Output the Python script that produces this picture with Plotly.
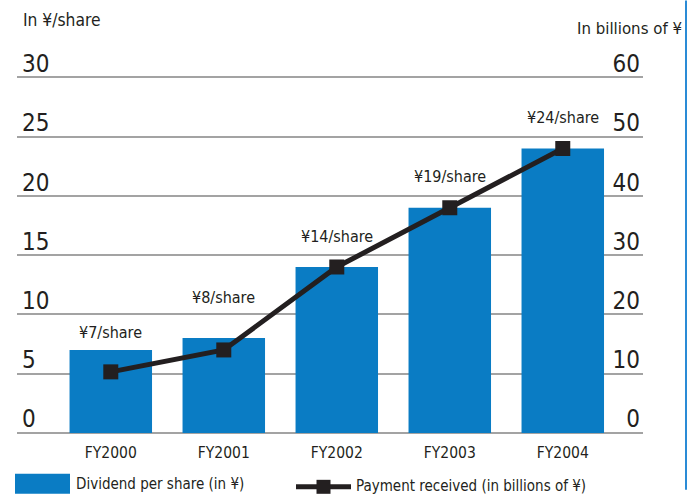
import plotly.graph_objects as go
from plotly.subplots import make_subplots

# Fiscal years and the two series
years = ["FY2000", "FY2001", "FY2002", "FY2003", "FY2004"]
dividend_per_share = [7, 8, 14, 19, 24]          # yen per share (left axis)
payment_received = [10.3, 14, 28, 38, 48]        # billions of yen (right axis)
value_labels = ["¥7/share", "¥8/share", "¥14/share", "¥19/share", "¥24/share"]

left_ticks = [0, 5, 10, 15, 20, 25, 30]
right_ticks = [0, 10, 20, 30, 40, 50, 60]

FONT = "Liberation Sans Narrow, Arial Narrow, DejaVu Sans Condensed, sans-serif"
TEXT = "#231f20"
BLUE = "#0a7cc4"
GRID = "#a3a3a3"

W, H = 698, 497
PX_PER_UNIT = 356 / 30          # vertical scale of the left axis
Y_TOP = 34                      # range top; 30 stays the last gridline
Y_BOT = -0.6                    # small pad below 0 keeps the "0" labels inside
ZERO_PX = 433                   # pixel row of the zero line
M_L, M_R = 17, 55
M_B = H - ZERO_PX + Y_BOT * PX_PER_UNIT
PH = (Y_TOP - Y_BOT) * PX_PER_UNIT
M_T = H - M_B - PH
PW = W - M_L - M_R


def px_x(x):
    return (x - M_L) / PW


def px_y(y):
    return (H - M_B - y) / PH


fig = make_subplots(specs=[[{"secondary_y": True}]])

fig.add_trace(go.Bar(
    x=years, y=dividend_per_share, name="Dividend per share (in ¥)",
    marker=dict(color=BLUE, line=dict(width=0)), width=0.73,
    showlegend=False, hoverinfo="x+y",
), secondary_y=False)

fig.add_trace(go.Scatter(
    x=years, y=payment_received, name="Payment received (in billions of ¥)",
    mode="lines+markers",
    line=dict(color=TEXT, width=5),
    marker=dict(symbol="square", size=15, color=TEXT),
    showlegend=False,
), secondary_y=True)

# value labels above each bar (vertical offset in px above the bar top)
label_lift = [17, 41, 30, 31, 31]
annotations = []
for yr, v, lab, lift in zip(years, dividend_per_share, value_labels, label_lift):
    annotations.append(dict(
        x=yr, y=v, xref="x", yref="y", text=lab, showarrow=False,
        yanchor="middle", yshift=lift,
        font=dict(family=FONT, size=16, color=TEXT),
    ))

# axis unit captions
annotations.append(dict(
    x=px_x(21), y=px_y(20), xref="paper", yref="paper", text="In ¥/share",
    showarrow=False, xanchor="left", yanchor="middle",
    font=dict(family=FONT, size=17.3, color=TEXT),
))
annotations.append(dict(
    x=px_x(684), y=px_y(28), xref="paper", yref="paper", text="In billions of ¥",
    showarrow=False, xanchor="right", yanchor="middle",
    font=dict(family=FONT, size=16.7, color=TEXT),
))

# legend entries drawn by hand
annotations.append(dict(
    x=px_x(74), y=px_y(484), xref="paper", yref="paper",
    text="Dividend per share (in ¥)", showarrow=False,
    xanchor="left", yanchor="middle",
    font=dict(family=FONT, size=15, color=TEXT),
))
annotations.append(dict(
    x=px_x(354), y=px_y(486), xref="paper", yref="paper",
    text="Payment received (in billions of ¥)", showarrow=False,
    xanchor="left", yanchor="middle",
    font=dict(family=FONT, size=15, color=TEXT),
))

shapes = [
    dict(type="rect", xref="paper", yref="paper",
         x0=px_x(15), x1=px_x(70), y0=px_y(474), y1=px_y(494),
         fillcolor=BLUE, line=dict(width=0)),
    dict(type="line", xref="paper", yref="paper",
         x0=px_x(296), x1=px_x(351), y0=px_y(487), y1=px_y(487),
         line=dict(color=TEXT, width=5)),
    dict(type="rect", xref="paper", yref="paper",
         x0=px_x(316.5), x1=px_x(330.5), y0=px_y(480), y1=px_y(494),
         fillcolor=TEXT, line=dict(width=0)),
    # thin blue rule at the right edge
    dict(type="line", xref="paper", yref="paper",
         x0=px_x(686), x1=px_x(686), y0=px_y(0), y1=px_y(490),
         line=dict(color="#2a8bd6", width=2)),
]

fig.update_layout(
    width=W, height=H,
    margin=dict(l=M_L, r=M_R, t=M_T, b=M_B, pad=0, autoexpand=False),
    paper_bgcolor="white", plot_bgcolor="white",
    font=dict(family=FONT, color=TEXT),
    annotations=annotations, shapes=shapes,
    showlegend=False,
)

fig.update_xaxes(
    domain=[0, 1],
    range=[-0.83, 4.71], showgrid=False, showline=False, zeroline=False,
    ticks="", ticklabelstandoff=1, automargin=False,
    tickfont=dict(family=FONT, size=15.5, color=TEXT),
)

fig.update_yaxes(
    range=[Y_BOT, Y_TOP], tickvals=left_ticks, ticktext=[str(t) for t in left_ticks],
    ticklabelposition="inside top", ticklabelshift=3, ticklabelstandoff=2,
    showgrid=True, gridcolor=GRID, gridwidth=1.5,
    zeroline=True, zerolinecolor=GRID, zerolinewidth=1.5,
    showline=False, ticks="", automargin=False,
    tickfont=dict(family=FONT, size=24, color=TEXT),
    secondary_y=False,
)
fig.update_yaxes(
    range=[2 * Y_BOT, 2 * Y_TOP], tickvals=right_ticks, ticktext=[str(t) for t in right_ticks],
    ticklabelposition="inside top", ticklabelshift=3, ticklabelstandoff=0,
    showgrid=False,
    zeroline=False, showline=False, ticks="", automargin=False,
    tickfont=dict(family=FONT, size=24, color=TEXT),
    secondary_y=True,
)

fig.write_html("out.html")
